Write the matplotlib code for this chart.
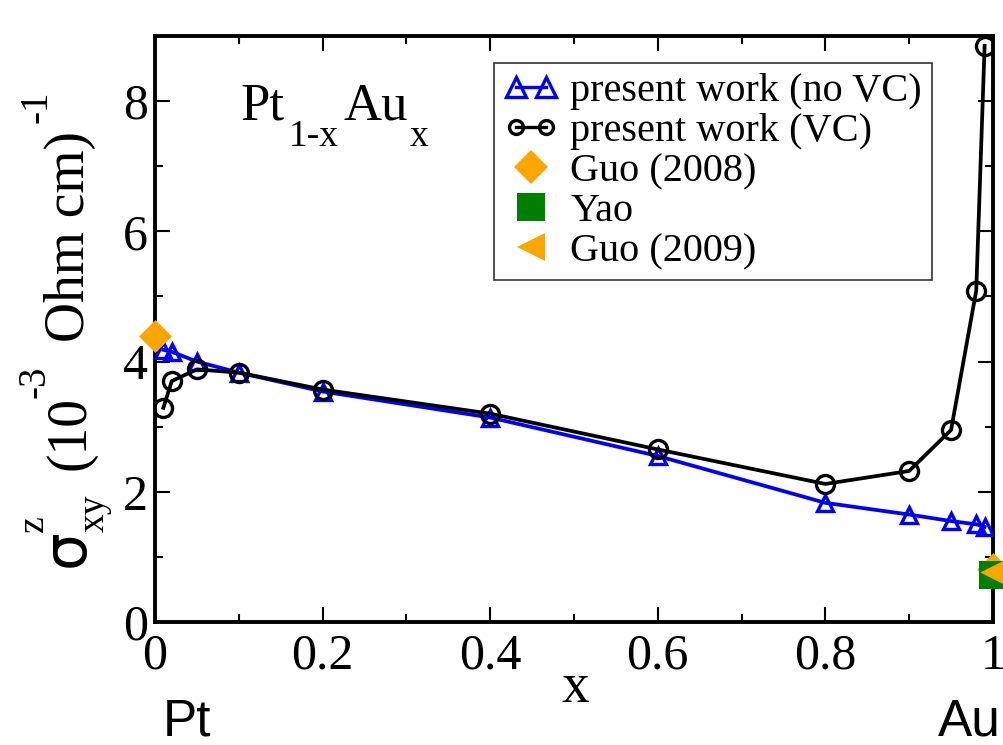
import matplotlib
matplotlib.use("Agg")
import matplotlib.pyplot as plt
from matplotlib.ticker import MultipleLocator
from matplotlib.lines import Line2D
from matplotlib.legend_handler import HandlerLine2D
from matplotlib.transforms import IdentityTransform

plt.rcParams['font.family'] = ['Liberation Serif', 'DejaVu Serif']

x_novc = [0.01, 0.02, 0.05, 0.1, 0.2, 0.4, 0.6, 0.8, 0.9, 0.95, 0.98, 0.99]
y_novc = [4.18, 4.15, 4.00, 3.83, 3.54, 3.14, 2.55, 1.83, 1.65, 1.55, 1.50, 1.46]
x_vc = [0.01, 0.02, 0.05, 0.1, 0.2, 0.4, 0.6, 0.8, 0.9, 0.95, 0.98, 0.99]
y_vc = [3.29, 3.70, 3.88, 3.83, 3.57, 3.20, 2.65, 2.12, 2.32, 2.95, 5.09, 8.85]
x_guo08 = [0.0, 1.0]
y_guo08 = [4.40, 0.81]
x_yao = [1.0]
y_yao = [0.72]
x_guo09 = [1.0]
y_guo09 = [0.77]
labels = ['present work (no VC)', 'present work (VC)', 'Guo (2008)', 'Yao', 'Guo (2009)']

W, H = 1004, 745
fig = plt.figure(figsize=(W/100, H/100), dpi=100)
ax = fig.add_axes([155/W, 1-622/H, (993-155)/W, (622-36)/H])

BLUE, ORANGE, GREEN = '#0000FF', '#FFA500', '#008000'
ax.plot(x_novc, y_novc, color=BLUE, lw=2.7, marker='^', markersize=11,
        markerfacecolor='none', markeredgewidth=2.4, zorder=3)
ax.plot(x_vc, y_vc, color='black', lw=2.7, marker='o', markersize=13,
        markerfacecolor='none', markeredgewidth=2.4, zorder=4)
ax.scatter(x_guo08, y_guo08, marker='D', s=280, color=ORANGE, zorder=5, clip_on=False, linewidths=0)
ax.scatter(x_yao, y_yao, marker='s', s=380, color=GREEN, zorder=6, clip_on=False, linewidths=0)
ax.scatter(x_guo09, y_guo09, marker='<', s=360, color=ORANGE, zorder=7, clip_on=False, linewidths=0)

ax.set_xlim(0, 1)
ax.set_ylim(0, 9)
ax.xaxis.set_minor_locator(MultipleLocator(0.1))
ax.yaxis.set_major_locator(MultipleLocator(2))
ax.yaxis.set_minor_locator(MultipleLocator(1))
ax.set_xticks([0, 0.2, 0.4, 0.6, 0.8, 1.0])
ax.set_xticklabels(['0', '0.2', '0.4', '0.6', '0.8', '1'])
ax.tick_params(which='both', direction='in', top=True, right=True, labelsize=36, width=1.5)
ax.tick_params(which='major', length=11)
ax.tick_params(axis='x', which='major', pad=8)
ax.tick_params(axis='y', which='major', pad=5)
ax.tick_params(which='minor', length=6)
for s in ax.spines.values():
    s.set_linewidth(2.8)

handles = [
    Line2D([], [], color=BLUE, lw=2.4, marker='^', markersize=15, markerfacecolor='none', markeredgewidth=2.4),
    Line2D([], [], color='black', lw=2.4, marker='o', markersize=10, markerfacecolor='none', markeredgewidth=2.4),
    Line2D([], [], ls='none', marker='D', markersize=17, color=ORANGE, markeredgewidth=0),
    Line2D([], [], ls='none', marker='s', markersize=20, color=GREEN, markeredgewidth=0),
    Line2D([], [], ls='none', marker='<', markersize=20, color=ORANGE, markeredgewidth=0),
]
hmap = {h: HandlerLine2D(numpoints=1) for h in handles[2:]}
leg = ax.legend(handles, labels, handler_map=hmap, loc='upper right',
                bbox_to_anchor=((932-155)/838, (622-63)/586),
                fontsize=29, numpoints=2, frameon=True, fancybox=False,
                edgecolor='black', handlelength=1.35, handletextpad=0.3,
                labelspacing=0.07, borderpad=0.25, borderaxespad=0)
leg.get_frame().set_linewidth(1.2)

# helper: place text by pixel coords measured from the top-left of the image
def ptext(x, y, s, size, family=None, rot=0, ha='left'):
    kw = dict(fontsize=size, transform=IdentityTransform(), ha=ha, va='baseline',
              rotation=rot, rotation_mode='anchor')
    if family:
        kw['family'] = family
    fig.text(x, H - y, s, **kw)

# inset label Pt_{1-x}Au_x
ptext(240, 120, 'Pt', 38)
ptext(289, 146, '1-x', 27)
ptext(343, 120, 'Au', 38)
ptext(410, 146, 'x', 27)

# y label: sigma^z_xy (10^-3 Ohm cm)^-1, rotated
ptext(84, 567, 'σ', 43, family='DejaVu Sans', rot=90)
ptext(43, 532, 'z', 27, rot=90)
ptext(104, 532, 'xy', 27, rot=90)
ptext(84, 470, '(10', 40, rot=90)
ptext(45, 398, '-3', 28, rot=90)
ptext(84, 342, 'Ohm cm)', 40, rot=90)
ptext(47, 123, '-1', 28, rot=90)

# x label and element labels
ptext(575, 702, 'x', 40, ha='center')
ptext(163, 736, 'Pt', 37, family='Liberation Sans')
ptext(1001, 736, 'Au', 37, family='Liberation Sans', ha='right')

fig.savefig('out.png', dpi=100)
